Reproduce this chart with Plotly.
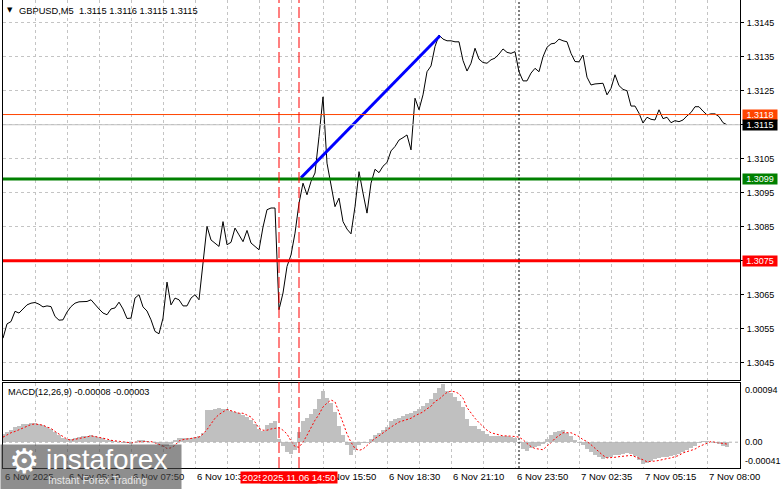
import plotly.graph_objects as go

# ---------------- data ----------------
# GBPUSD M5 closes, sampled every 2nd bar (10 minutes)
close = [
    1.30522, 1.30564, 1.30571, 1.30601, 1.30596, 1.30609, 1.30620, 1.30625, 1.30627, 1.30622,
    1.30614, 1.30617, 1.30615, 1.30586, 1.30575, 1.30576, 1.30599, 1.30615, 1.30625, 1.30629,
    1.30630, 1.30630, 1.30635, 1.30620, 1.30608, 1.30596, 1.30591, 1.30608, 1.30611, 1.30628,
    1.30608, 1.30580, 1.30581, 1.30640, 1.30650, 1.30614, 1.30602, 1.30576, 1.30542, 1.30535,
    1.30581, 1.30687, 1.30620, 1.30640, 1.30635, 1.30617, 1.30617, 1.30640, 1.30650, 1.30635,
    1.30743, 1.30851, 1.30811, 1.30802, 1.30792, 1.30865, 1.30797, 1.30804, 1.30846, 1.30826,
    1.30806, 1.30839, 1.30802, 1.30792, 1.30782, 1.30849, 1.30900, 1.30905, 1.30905, 1.30606,
    1.30655, 1.30733, 1.30767, 1.30831, 1.30919, 1.30978, 1.30944, 1.30983, 1.31008, 1.31115,
    1.31232, 1.31037, 1.30973, 1.30909, 1.30934, 1.30865, 1.30843, 1.30829, 1.30909, 1.31012,
    1.30949, 1.30890, 1.30978, 1.31019, 1.31009, 1.31028, 1.31039, 1.31073, 1.31086, 1.31105,
    1.31112, 1.31120, 1.31076, 1.31228, 1.31194, 1.31238, 1.31306, 1.31323, 1.31380, 1.31414,
    1.31402, 1.31397, 1.31397, 1.31394, 1.31394, 1.31339, 1.31308, 1.31331, 1.31375, 1.31343,
    1.31333, 1.31331, 1.31341, 1.31346, 1.31358, 1.31373, 1.31363, 1.31360, 1.31365, 1.31306,
    1.31279, 1.31279, 1.31302, 1.31316, 1.31306, 1.31350, 1.31378, 1.31388, 1.31390, 1.31402,
    1.31397, 1.31394, 1.31360, 1.31336, 1.31335, 1.31355, 1.31290, 1.31267, 1.31270, 1.31270,
    1.31272, 1.31238, 1.31257, 1.31297, 1.31265, 1.31254, 1.31250, 1.31205, 1.31205, 1.31184,
    1.31155, 1.31172, 1.31166, 1.31164, 1.31194, 1.31168, 1.31172, 1.31156, 1.31162, 1.31159,
    1.31164, 1.31176, 1.31186, 1.31203, 1.31203, 1.31190, 1.31179, 1.31182, 1.31182, 1.31174,
    1.31156, 1.31150,
]

# MACD(12,26,9) main (histogram) and signal, in units of 0.00001
macd_main_e5 = [
    13, 16, 20, 24, 26, 29, 29, 30, 30, 29,
    27, 24, 21, 16, 11, 6, 5, 5, 7, 9,
    10, 10, 11, 10, 8, 6, 4, 3, 2, 0,
    -1, -2, -3, 1, 3, 3, 2, 1, -2, -5,
    -7, -6, -3, 3, 6, 6, 6, 7, 8, 10,
    14, 51, 51, 53, 55, 53, 52, 49, 48, 46,
    43, 40, 35, 29, 21, 17, 28, 31, 33, 5,
    -6, -16, -19, -13, 16, 33, 38, 44, 53, 69,
    82, 70, 62, 48, 26, 11, -4, -21, -13, -5,
    -2, -1, 5, 11, 15, 20, 24, 33, 37, 39,
    42, 44, 47, 50, 53, 58, 63, 69, 78, 86,
    92, 82, 78, 72, 66, 56, 37, 26, 25, 21,
    17, 13, 10, 10, 10, 10, 10, 9, 7, -2,
    -11, -14, -10, -8, -6, -3, 5, 12, 16, 18,
    19, 15, 10, 4, -1, -4, -11, -16, -21, -24,
    -26, -25, -24, -21, -20, -18, -17, -18, -22, -28,
    -34, -33, -30, -27, -25, -24, -23, -22, -20, -18,
    -15, -13, -10, -6, -2, 2, 2, 0, -2, -3,
    -6, -8,
]
macd_signal_e5 = [
    8, 12, 15, 17, 20, 23, 25, 28, 29, 28,
    27, 24, 22, 17, 13, 9, 5, 3, 5, 6,
    7, 9, 10, 9, 8, 7, 5, 3, 2, 1,
    0, -1, -1, 0, 1, 1, 1, 1, -1, -3,
    -6, -10, -9, -5, 2, 4, 5, 6, 7, 8,
    13, 20, 29, 38, 44, 48, 52, 50, 48, 46,
    46, 43, 40, 32, 22, 19, 19, 21, 22, 23,
    19, 13, 2, -7, -8, 0, 11, 23, 35, 44,
    56, 62, 67, 64, 49, 31, 13, 0, -10, -13,
    -11, -5, 0, 6, 10, 15, 19, 24, 28, 32,
    34, 36, 38, 42, 45, 48, 53, 57, 65, 68,
    74, 79, 81, 80, 77, 70, 55, 46, 38, 31,
    25, 19, 15, 13, 11, 10, 10, 10, 9, 8,
    4, -2, -7, -10, -11, -12, -6, -1, 6, 11,
    15, 15, 15, 12, 9, 4, 1, -4, -10, -15,
    -21, -25, -25, -24, -23, -22, -21, -21, -23, -25,
    -28, -31, -31, -30, -29, -27, -26, -25, -23, -21,
    -17, -15, -13, -11, -7, -4, -1, 1, 0, -1,
    -3, -3,
]

# time-axis labels (bar index of each label, M5 bars)
time_label_bars = [0, 32, 64, 96, 128, 160, 192, 224, 256, 288, 320, 352]
time_labels = ["6 Nov 2025", "6 Nov 05:10", "6 Nov 07:50", "6 Nov 10:30", "6 Nov 13:10",
               "6 Nov 15:50", "6 Nov 18:30", "6 Nov 21:10", "6 Nov 23:50", "7 Nov 02:35",
               "7 Nov 05:15", "7 Nov 08:00"]

price_ticks = [1.3045, 1.3055, 1.3065, 1.3075, 1.3085, 1.3095, 1.3105, 1.3115, 1.3125, 1.3135, 1.3145]

# chart objects
level_support = 1.3075      # red
level_resist = 1.3099       # green
ask_price = 1.3118
bid_price = 1.3115
trend_bars = [149, 218.5]
trend_prices = [1.30994, 1.31412]
vline_bars = [138, 148]
vline_labels = ["2025.11.06 14:00", "2025.11.06 14:50"]
day_sep_bar = 258

macd_max = 0.00094
macd_min = -0.00041

# ---------------- layout helpers ----------------
W, H = 781, 489
L, R, T, B = 3, 41, 0, 21
PW = W - L - R
PH = H - T - B


def pxx(px):
    return (px - L) / PW


def pxy(py):
    return (H - B - py) / PH


FONT = "Liberation Sans, Arial, sans-serif"
GRID = "#c4c4c4"

bars = [2 * i for i in range(len(close))]
x_range = [0, (740 - L) / 2]
price_range = [1.30399, 1.31517]

fig = go.Figure()

fig.add_trace(go.Bar(
    x=bars, y=[v * 1e-5 for v in macd_main_e5], width=2,
    marker=dict(color="#C0C0C0", line=dict(width=0)),
    xaxis="x2", yaxis="y2", hoverinfo="skip"))
fig.add_trace(go.Scatter(
    x=bars, y=[v * 1e-5 for v in macd_signal_e5], mode="lines",
    line=dict(color="#FF0000", width=1, dash="2px,2px"),
    xaxis="x2", yaxis="y2", hoverinfo="skip"))
fig.add_trace(go.Scatter(
    x=bars, y=close, mode="lines", line=dict(color="black", width=1),
    xaxis="x", yaxis="y", hoverinfo="skip"))
fig.add_trace(go.Scatter(
    x=trend_bars, y=trend_prices, mode="lines", line=dict(color="#0000FF", width=3),
    xaxis="x", yaxis="y", hoverinfo="skip"))

shapes = []
# horizontal levels
for lvl, col, wd in [(ask_price, "#FF4500", 1), (bid_price, "#C0C0C0", 1),
                     (level_resist, "#008000", 3), (level_support, "#FF0000", 3)]:
    shapes.append(dict(type="line", xref="paper", yref="y", x0=0, x1=1, y0=lvl, y1=lvl,
                       line=dict(color=col, width=wd)))
# MACD zero level
shapes.append(dict(type="line", xref="paper", yref="y2", x0=0, x1=1, y0=0, y1=0,
                   line=dict(color="#b0b0b0", width=1, dash="3px,3px")))
# vertical lines
for vb in vline_bars:
    shapes.append(dict(type="line", xref="x", yref="paper", x0=vb, x1=vb, y0=0, y1=1,
                       line=dict(color="#FF0000", width=1, dash="11px,4px")))
shapes.append(dict(type="line", xref="x", yref="paper", x0=day_sep_bar, x1=day_sep_bar, y0=0, y1=1,
                   line=dict(color="black", width=1, dash="2px,2px")))

ann = []
# title
ann.append(dict(text="▼", x=pxx(5), y=pxy(10), xref="paper", yref="paper", xanchor="left",
                yanchor="middle", showarrow=False, font=dict(family="DejaVu Sans", size=7, color="black")))
ann.append(dict(text="GBPUSD,M5  1.3115 1.3116 1.3115 1.3115", x=pxx(17), y=pxy(11), xref="paper",
                yref="paper", xanchor="left", yanchor="middle", showarrow=False,
                font=dict(family=FONT, size=9.3, color="black")))
ann.append(dict(text="MACD(12,26,9) -0.00008 -0.00003", x=pxx(6), y=pxy(392), xref="paper",
                yref="paper", xanchor="left", yanchor="middle", showarrow=False,
                font=dict(family=FONT, size=9.2, color="black")))
# MACD scale labels
for txt, py in [("0.00094", 390), ("0.00", 442), ("-0.00041", 461)]:
    ann.append(dict(text=txt, x=pxx(743), y=pxy(py), xref="paper", yref="paper", xanchor="left",
                    yanchor="middle", showarrow=False, font=dict(family=FONT, size=9, color="black")))
# time labels
for tb, tl in zip(time_label_bars, time_labels):
    ann.append(dict(text=tl, x=tb, y=pxy(477), xref="x", yref="paper", xanchor="left",
                    yanchor="middle", showarrow=False, font=dict(family=FONT, size=9.5, color="black")))
# red time boxes of the vertical lines
for vb, vl in zip(vline_bars, vline_labels):
    ann.append(dict(text=vl, x=vb, y=pxy(477.5), xref="x", yref="paper", xanchor="center",
                    yanchor="middle", showarrow=False, bgcolor="#FF0000", width=74, height=9,
                    borderpad=1, font=dict(family=FONT, size=9.5, color="white")))
# price boxes on the right scale
for lvl, col in [(ask_price, "#FF4500"), (bid_price, "#000000"),
                 (level_resist, "#008000"), (level_support, "#FF0000")]:
    ann.append(dict(text=f"{lvl:.4f}", x=pxx(760), y=lvl, xref="paper", yref="y", xanchor="center",
                    yanchor="middle", showarrow=False, bgcolor=col, width=32, height=8, borderpad=1,
                    font=dict(family=FONT, size=9, color="white")))
# logo overlay
ann.append(dict(text=" ", x=pxx(0), y=pxy(444), xref="paper", yref="paper", xanchor="left",
                yanchor="top", showarrow=False, bgcolor="rgba(72,72,72,0.62)", width=180, height=45,
                borderpad=0))
ann.append(dict(text="⚙", x=pxx(24), y=pxy(461), xref="paper", yref="paper", xanchor="center",
                yanchor="middle", showarrow=False, font=dict(family="DejaVu Sans", size=34, color="white")))
ann.append(dict(text="instaforex", x=pxx(44), y=pxy(459), xref="paper", yref="paper", xanchor="left",
                yanchor="middle", showarrow=False, font=dict(family=FONT, size=28, color="white")))
ann.append(dict(text="Instant Forex Trading", x=pxx(46), y=pxy(480), xref="paper", yref="paper",
                xanchor="left", yanchor="middle", showarrow=False,
                font=dict(family=FONT, size=10.5, color="#e6e6e6")))

fig.update_layout(
    template="none",
    width=W, height=H, margin=dict(l=L, r=R, t=T, b=B, pad=0, autoexpand=False),
    paper_bgcolor="white", plot_bgcolor="white", showlegend=False, bargap=0,
    font=dict(family=FONT, size=9, color="black"),
    xaxis=dict(domain=[0, 1], range=x_range, anchor="y", showgrid=True, gridcolor=GRID,
               griddash="3px,3px", gridwidth=1, tick0=16, dtick=16, showticklabels=False, ticks="",
               showline=True, linecolor="black", linewidth=1, mirror=False, zeroline=False,
               automargin=False),
    yaxis=dict(domain=[pxy(380), 1], range=price_range, anchor="x", side="right",
               tickmode="array", tickvals=price_ticks, ticktext=[f"{v:.4f}" for v in price_ticks],
               ticks="outside", ticklen=3, tickcolor="black", ticklabelstandoff=1,
               tickfont=dict(family=FONT, size=9, color="black"),
               showgrid=True, gridcolor=GRID, griddash="3px,3px", gridwidth=1, automargin=False,
               showline=True, linecolor="black", linewidth=1, mirror=True, zeroline=False),
    xaxis2=dict(domain=[0, 1], range=x_range, anchor="y2", showgrid=True, gridcolor=GRID,
                griddash="3px,3px", gridwidth=1, tick0=16, dtick=16, showticklabels=False, ticks="",
                showline=True, linecolor="black", linewidth=1, mirror=True, zeroline=False,
                automargin=False),
    yaxis2=dict(domain=[0, pxy(383)], range=[macd_min, macd_max], anchor="x2", side="right",
                showgrid=False, showticklabels=False, ticks="", showline=True, linecolor="black",
                linewidth=1, mirror=True, zeroline=False, automargin=False),
    shapes=shapes, annotations=ann,
)

fig.write_html("out.html", config={"displayModeBar": False, "staticPlot": True},
               post_script="document.body.style.margin='0px';document.body.style.overflow='hidden';")
